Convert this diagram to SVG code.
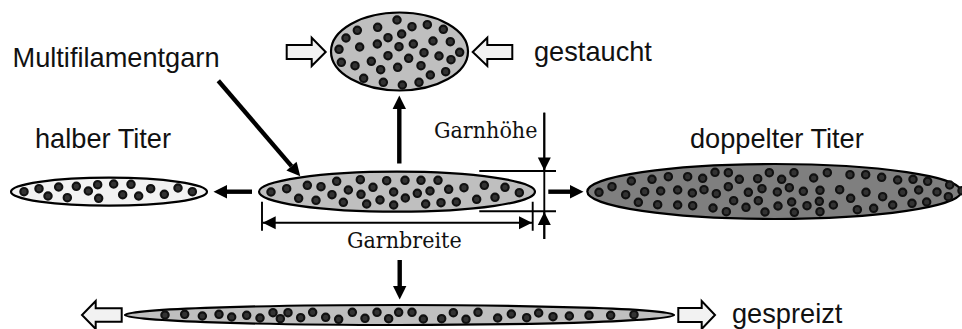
<svg xmlns="http://www.w3.org/2000/svg" width="962" height="329" viewBox="0 0 962 329">
<style>
.e{stroke:#000;stroke-width:2.2}
.d{r:11px;fill:#333;stroke:#111;stroke-width:6.5}
.s{font-family:"Liberation Sans",Arial,sans-serif;font-size:27.2px;fill:#111}
.c{font-family:"DejaVu Serif Condensed","DejaVu Serif",serif;font-size:23px;fill:#111}
.b{stroke:#000;stroke-width:4.4;fill:none;marker-end:url(#ah)}
.t{stroke:#000;stroke-width:1.9;fill:none}
.o{fill:#f2f2f2;stroke:#000;stroke-width:2;stroke-linejoin:miter}
.m{marker-end:url(#th)}
.n{marker-start:url(#th);marker-end:url(#th)}
</style>
<defs>
<marker id="ah" markerUnits="userSpaceOnUse" markerWidth="14" markerHeight="14" refX="0" refY="7" orient="auto" overflow="visible"><path d="M0,0.3L13.5,7L0,13.7z" fill="#000"/></marker>
<marker id="th" markerUnits="userSpaceOnUse" markerWidth="13" markerHeight="13" refX="13" refY="6.5" orient="auto-start-reverse" overflow="visible"><path d="M0,0L13,6.5L0,13z" fill="#000"/></marker>
</defs>
<rect width="962" height="329" fill="#fff"/>
<g id="connectors">
<path class="b" d="M218.3,80.7L291.5,166.1"/>
<path class="b" d="M399.3,163.5V109"/>
<path class="b" d="M252,191.7H227"/>
<path class="b" d="M548.3,191.7H570"/>
<path class="b" d="M399.7,260V286"/>
<path class="t" d="M544.3,112.7V239"/>
<path class="t m" d="M544.3,112.7V170.5"/>
<path class="t m" d="M544.3,239V212"/>
<path class="t" d="M479.3,171H556M479.3,211.3H556"/>
<path class="t" d="M262,201.7V230.7M532.7,201.7V230.7"/>
<path class="t n" d="M262.7,222.7H532"/>
<path class="o" d="M286.7,45H311.7V37.7L325.7,52L311.7,66V59H286.7z"/>
<path class="o" d="M512.3,45H487.3V37.7L472.7,52L487.3,66V59H512.3z"/>
<path class="o" d="M121.7,308.3H95.7V301L82,315L95.7,329V321.7H121.7z"/>
<path class="o" d="M678.3,308H701.7V301L715,315L701.7,329V322H678.3z"/>
</g>
<g id="node-gestaucht">
<ellipse class="e" cx="399.5" cy="51.5" rx="68.5" ry="39" fill="#bfbfbf"/>
<g transform="translate(270 0) scale(.33333)">
<circle class="d" cx="381" cy="60"/><circle class="d" cx="426" cy="80"/><circle class="d" cx="472" cy="74"/><circle class="d" cx="520" cy="88"/><circle class="d" cx="323" cy="82"/><circle class="d" cx="262" cy="91"/><circle class="d" cx="228" cy="114"/><circle class="d" cx="354" cy="113"/><circle class="d" cx="395" cy="102"/><circle class="d" cx="489" cy="123"/><circle class="d" cx="541" cy="125"/><circle class="d" cx="207" cy="148"/><circle class="d" cx="269" cy="141"/><circle class="d" cx="322" cy="132"/><circle class="d" cx="387" cy="140"/><circle class="d" cx="430" cy="132"/><circle class="d" cx="569" cy="157"/><circle class="d" cx="462" cy="158"/><circle class="d" cx="507" cy="168"/><circle class="d" cx="543" cy="179"/><circle class="d" cx="354" cy="167"/><circle class="d" cx="416" cy="175"/><circle class="d" cx="214" cy="187"/><circle class="d" cx="255" cy="197"/><circle class="d" cx="304" cy="184"/><circle class="d" cx="332" cy="209"/><circle class="d" cx="383" cy="202"/><circle class="d" cx="453" cy="197"/><circle class="d" cx="527" cy="215"/><circle class="d" cx="481" cy="225"/><circle class="d" cx="281" cy="235"/><circle class="d" cx="340" cy="247"/><circle class="d" cx="397" cy="255"/><circle class="d" cx="447" cy="247"/>
</g>
<text class="s" x="534" y="60.7">gestaucht</text>
</g>
<g id="node-halber-titer">
<ellipse class="e" cx="109" cy="191.7" rx="98" ry="14" fill="#f2f2f2"/>
<g transform="translate(0 160) scale(.33333)">
<circle class="d" cx="72" cy="95"/><circle class="d" cx="117" cy="86"/><circle class="d" cx="144" cy="108"/><circle class="d" cx="176" cy="81"/><circle class="d" cx="202" cy="113"/><circle class="d" cx="229" cy="79"/><circle class="d" cx="265" cy="93"/><circle class="d" cx="293" cy="74"/><circle class="d" cx="296" cy="115"/><circle class="d" cx="341" cy="72"/><circle class="d" cx="368" cy="104"/><circle class="d" cx="393" cy="73"/><circle class="d" cx="416" cy="108"/><circle class="d" cx="452" cy="86"/><circle class="d" cx="493" cy="103"/><circle class="d" cx="534" cy="84"/><circle class="d" cx="577" cy="95"/>
</g>
<text class="s" x="35" y="148.3">halber Titer</text>
</g>
<g id="node-multifilamentgarn">
<ellipse class="e" cx="397" cy="191.7" rx="138" ry="20" fill="#bfbfbf"/>
<g transform="translate(250 110) scale(.33333)">
<circle class="d" cx="63" cy="246"/><circle class="d" cx="110" cy="236"/><circle class="d" cx="146" cy="265"/><circle class="d" cx="172" cy="226"/><circle class="d" cx="198" cy="271"/><circle class="d" cx="213" cy="230"/><circle class="d" cx="260" cy="214"/><circle class="d" cx="246" cy="254"/><circle class="d" cx="280" cy="277"/><circle class="d" cx="295" cy="240"/><circle class="d" cx="331" cy="209"/><circle class="d" cx="333" cy="253"/><circle class="d" cx="350" cy="282"/><circle class="d" cx="369" cy="232"/><circle class="d" cx="390" cy="270"/><circle class="d" cx="410" cy="212"/><circle class="d" cx="431" cy="246"/><circle class="d" cx="431" cy="285"/><circle class="d" cx="466" cy="264"/><circle class="d" cx="465" cy="211"/><circle class="d" cx="513" cy="211"/><circle class="d" cx="502" cy="250"/><circle class="d" cx="540" cy="243"/><circle class="d" cx="527" cy="282"/><circle class="d" cx="564" cy="211"/><circle class="d" cx="573" cy="278"/><circle class="d" cx="596" cy="238"/><circle class="d" cx="619" cy="276"/><circle class="d" cx="642" cy="233"/><circle class="d" cx="680" cy="268"/><circle class="d" cx="703" cy="226"/><circle class="d" cx="735" cy="262"/><circle class="d" cx="765" cy="232"/><circle class="d" cx="808" cy="248"/>
</g>
<text class="s" x="12.5" y="66.7">Multifilamentgarn</text>
<text class="c" x="434" y="138">Garnhöhe</text>
<text class="c" x="347" y="248">Garnbreite</text>
</g>
<g id="node-doppelter-titer">
<ellipse class="e" cx="774.3" cy="191.5" rx="187" ry="27.5" fill="#7f7f7f"/>
<g transform="translate(580 150) scale(.33333)">
<circle class="d" cx="57" cy="127"/><circle class="d" cx="96" cy="110"/><circle class="d" cx="137" cy="134"/><circle class="d" cx="154" cy="93"/><circle class="d" cx="175" cy="157"/><circle class="d" cx="194" cy="125"/><circle class="d" cx="216" cy="88"/><circle class="d" cx="233" cy="164"/><circle class="d" cx="242" cy="123"/><circle class="d" cx="265" cy="80"/><circle class="d" cx="293" cy="120"/><circle class="d" cx="293" cy="165"/><circle class="d" cx="323" cy="80"/><circle class="d" cx="337" cy="129"/><circle class="d" cx="338" cy="167"/><circle class="d" cx="368" cy="85"/><circle class="d" cx="372" cy="119"/><circle class="d" cx="399" cy="174"/><circle class="d" cx="405" cy="67"/><circle class="d" cx="409" cy="131"/><circle class="d" cx="439" cy="185"/><circle class="d" cx="445" cy="68"/><circle class="d" cx="445" cy="110"/><circle class="d" cx="461" cy="152"/><circle class="d" cx="478" cy="88"/><circle class="d" cx="498" cy="172"/><circle class="d" cx="505" cy="127"/><circle class="d" cx="533" cy="86"/><circle class="d" cx="535" cy="152"/><circle class="d" cx="546" cy="116"/><circle class="d" cx="555" cy="186"/><circle class="d" cx="568" cy="68"/><circle class="d" cx="592" cy="126"/><circle class="d" cx="594" cy="168"/><circle class="d" cx="605" cy="88"/><circle class="d" cx="628" cy="113"/><circle class="d" cx="635" cy="156"/><circle class="d" cx="642" cy="68"/><circle class="d" cx="643" cy="187"/><circle class="d" cx="670" cy="124"/><circle class="d" cx="681" cy="167"/><circle class="d" cx="701" cy="84"/><circle class="d" cx="718" cy="154"/><circle class="d" cx="720" cy="121"/><circle class="d" cx="720" cy="185"/><circle class="d" cx="742" cy="68"/><circle class="d" cx="760" cy="165"/><circle class="d" cx="779" cy="119"/><circle class="d" cx="810" cy="74"/><circle class="d" cx="812" cy="145"/><circle class="d" cx="832" cy="179"/><circle class="d" cx="857" cy="74"/><circle class="d" cx="858" cy="127"/><circle class="d" cx="881" cy="175"/><circle class="d" cx="905" cy="82"/><circle class="d" cx="908" cy="140"/><circle class="d" cx="938" cy="165"/><circle class="d" cx="953" cy="90"/><circle class="d" cx="968" cy="127"/><circle class="d" cx="996" cy="160"/><circle class="d" cx="999" cy="88"/><circle class="d" cx="1016" cy="120"/><circle class="d" cx="1040" cy="156"/><circle class="d" cx="1043" cy="94"/><circle class="d" cx="1071" cy="126"/><circle class="d" cx="1105" cy="140"/><circle class="d" cx="1109" cy="105"/><circle class="d" cx="1146" cy="122"/>
</g>
<text class="s" x="690" y="148.3">doppelter Titer</text>
</g>
<g id="node-gespreizt">
<ellipse class="e" cx="399.5" cy="315" rx="274.5" ry="10" fill="#bfbfbf"/>
<g transform="translate(100 270) scale(.33333)">
<circle class="d" cx="195" cy="135"/><circle class="d" cx="254" cy="133"/><circle class="d" cx="307" cy="138"/><circle class="d" cx="357" cy="133"/><circle class="d" cx="395" cy="141"/><circle class="d" cx="440" cy="136"/><circle class="d" cx="480" cy="144"/><circle class="d" cx="519" cy="128"/><circle class="d" cx="541" cy="146"/><circle class="d" cx="564" cy="128"/><circle class="d" cx="602" cy="143"/><circle class="d" cx="638" cy="127"/><circle class="d" cx="677" cy="142"/><circle class="d" cx="716" cy="148"/><circle class="d" cx="757" cy="127"/><circle class="d" cx="795" cy="145"/><circle class="d" cx="831" cy="127"/><circle class="d" cx="866" cy="146"/><circle class="d" cx="896" cy="127"/>
</g>
<g transform="translate(390 270) scale(.33333)">
<circle class="d" cx="66" cy="127"/><circle class="d" cx="100" cy="147"/><circle class="d" cx="155" cy="146"/><circle class="d" cx="190" cy="128"/><circle class="d" cx="228" cy="148"/><circle class="d" cx="264" cy="127"/><circle class="d" cx="323" cy="144"/><circle class="d" cx="364" cy="132"/><circle class="d" cx="410" cy="143"/><circle class="d" cx="446" cy="129"/><circle class="d" cx="489" cy="140"/><circle class="d" cx="538" cy="138"/><circle class="d" cx="597" cy="136"/><circle class="d" cx="662" cy="136"/><circle class="d" cx="732" cy="134"/>
</g>
<text class="s" x="732" y="322.5">gespreizt</text>
</g>
</svg>
